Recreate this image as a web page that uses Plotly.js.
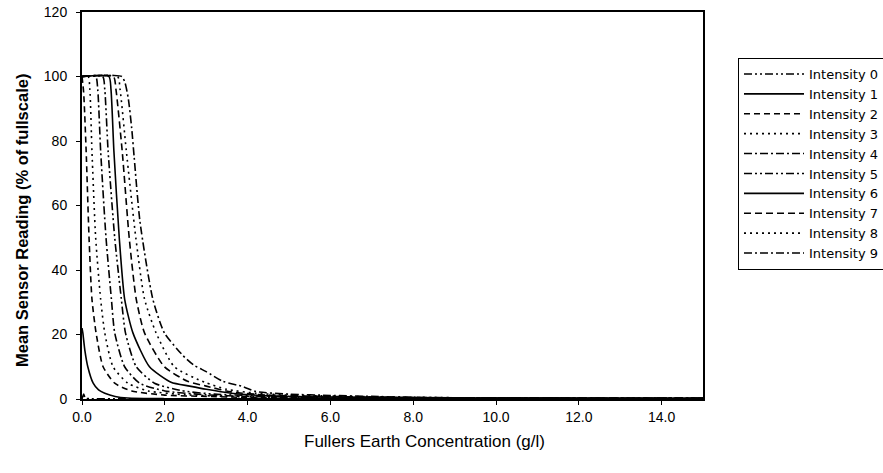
<!DOCTYPE html>
<html>
<head>
<meta charset="utf-8">
<script src="https://cdn.plot.ly/plotly-3.0.1.min.js"></script>
<style>html,body{margin:0;padding:0;background:#fff;}#chart{width:883px;height:473px;}</style>
</head>
<body>
<div id="chart"></div>
<script>
// Series names
const seriesNames = ["Intensity 0","Intensity 1","Intensity 2","Intensity 3","Intensity 4",
                     "Intensity 5","Intensity 6","Intensity 7","Intensity 8","Intensity 9"];

// Concentration (g/l) and mean sensor reading (% of fullscale)
const x0 = [0, 0.04, 0.08, 0.2, 1, 3, 6, 10, 15];
const y0 = [0, 1.5, 0.3, 0.1, 0.1, 0.1, 0.1, 0.1, 0.1];

const x1 = [0, 0.02, 0.07, 0.14, 0.27, 0.4, 0.55, 0.8, 1.1, 2, 15];
const y1 = [22, 20.5, 15, 10, 4.9, 2.8, 1.8, 0.8, 0.3, 0.1, 0.1];

const x2 = [0, 0.04, 0.10, 0.17, 0.24, 0.34, 0.51, 0.79, 1.2, 2, 3, 4, 6, 8, 15];
const y2 = [100, 95, 77, 50, 31, 20.5, 10, 4.9, 2.5, 1.2, 0.8, 0.5, 0.3, 0.2, 0.1];

const x3 = [0, 0.15, 0.19, 0.24, 0.33, 0.45, 0.55, 0.75, 1.11, 1.6, 2.5, 3.5, 5, 8, 15];
const y3 = [100, 100, 96, 77, 50, 31, 20.5, 10, 4.9, 2.5, 1.3, 0.8, 0.5, 0.3, 0.2];

const x4 = [0, 0.33, 0.38, 0.45, 0.58, 0.71, 0.79, 1.03, 1.39, 2.0, 3, 4, 6, 10, 15];
const y4 = [100, 100, 96, 77, 50, 31, 20.5, 10, 4.9, 2.5, 1.3, 0.8, 0.5, 0.3, 0.2];

const x5 = [0, 0.5, 0.55, 0.63, 0.79, 0.95, 1.05, 1.31, 1.75, 2.4, 3.2, 4.5, 6, 10, 15];
const y5 = [100, 100, 96, 77, 50, 31, 20.5, 10, 4.9, 2.6, 1.5, 0.9, 0.6, 0.3, 0.2];

const x6 = [0, 0.65, 0.70, 0.77, 0.90, 1.03, 1.23, 1.63, 2.15, 2.6, 3.0, 3.6, 4.5, 6, 10, 15];
const y6 = [100, 100, 96, 77, 50, 31, 20.5, 10, 5.2, 4, 3, 1.8, 1, 0.6, 0.3, 0.2];

const x7 = [0, 0.76, 0.82, 0.97, 1.14, 1.31, 1.51, 1.99, 2.55, 3.0, 3.6, 4.5, 6, 8, 15];
const y7 = [100, 100, 96, 77, 50, 31, 20.5, 10, 5.5, 4, 2.2, 1.2, 0.8, 0.4, 0.2];

const x8 = [0, 0.86, 0.92, 1.07, 1.30, 1.51, 1.79, 2.23, 2.96, 3.5, 4.2, 5, 7, 9, 15];
const y8 = [100, 100, 96, 77, 50, 31, 20.5, 10, 5.2, 3, 1.8, 1.2, 0.7, 0.4, 0.3];

const x9 = [0, 0.96, 1.04, 1.12, 1.20, 1.26, 1.40, 1.71, 1.99, 2.43, 2.7, 3.0, 3.4, 3.9, 4.2, 5, 6, 7, 8, 10, 15];
const y9 = [100, 100, 98, 93, 84, 75, 55, 31, 20.5, 13.6, 10.5, 8.5, 5.5, 3.8, 2.3, 1.5, 1.1, 0.8, 0.5, 0.3, 0.3];

const xData = [x0, x1, x2, x3, x4, x5, x6, x7, x8, x9];
const yData = [y0, y1, y2, y3, y4, y5, y6, y7, y8, y9];

const xTickVals = [0, 2, 4, 6, 8, 10, 12, 14];
const yTickVals = [0, 20, 40, 60, 80, 100, 120];

const xTitle = "Fullers Earth Concentration (g/l)";
const yTitle = "Mean Sensor Reading (% of fullscale)";

const dashes = ["8px,3px,2px,3px,2px,3px", "solid", "6px,4px", "2px,4px", "8px,3px,2px,3px",
                "8px,3px,2px,3px,2px,3px", "solid", "7px,4px", "2px,4px", "8px,3px,2px,3px"];

const traces = seriesNames.map((n, i) => ({
  type: "scatter", mode: "lines", name: n,
  x: xData[i], y: yData[i],
  line: {color: "#000", width: 1.6, dash: dashes[i], shape: "spline", smoothing: 0.6}
}));

const font = "Arial, 'Liberation Sans', sans-serif";
const layout = {
  width: 883, height: 473,
  margin: {l: 82, r: 180, t: 12, b: 74, autoexpand: false},
  paper_bgcolor: "#fff", plot_bgcolor: "#fff",
  font: {family: font, color: "#000", size: 14},
  showlegend: true,
  legend: {x: (738 - 82) / 621, xanchor: "left", y: (399 - 58) / 387, yanchor: "top",
           bordercolor: "#000", borderwidth: 1, bgcolor: "#fff", itemwidth: 60,
           font: {family: "'DejaVu Sans', sans-serif", size: 13, color: "#000"}, traceorder: "normal"},
  xaxis: {
    range: [0, 15], tickvals: xTickVals, ticktext: xTickVals.map(v => v.toFixed(1)),
    showgrid: false, zeroline: false, showline: true, linecolor: "#000", linewidth: 2,
    mirror: true, ticks: "outside", ticklen: 4, tickcolor: "#000",
    tickfont: {size: 14, family: font}
  },
  yaxis: {
    range: [0, 120], tickvals: yTickVals,
    showgrid: false, zeroline: false, showline: true, linecolor: "#000", linewidth: 2,
    mirror: true, ticks: "outside", ticklen: 4, tickcolor: "#000", ticklabelstandoff: 6,
    tickfont: {size: 14, family: font}
  },
  annotations: [
    {text: xTitle, xref: "paper", yref: "paper", x: (424 - 82) / 621, y: -(441 - 399) / 387,
     xanchor: "center", yanchor: "middle", showarrow: false, font: {size: 17, family: font}},
    {text: "<b>" + yTitle + "</b>", xref: "paper", yref: "paper", x: -(82 - 22) / 621, y: (399 - 221) / 387,
     xanchor: "center", yanchor: "middle", showarrow: false, textangle: -90, font: {size: 16.5, family: font}}
  ]
};

Plotly.newPlot("chart", traces, layout, {displayModeBar: false, staticPlot: true});
</script>
</body>
</html>
